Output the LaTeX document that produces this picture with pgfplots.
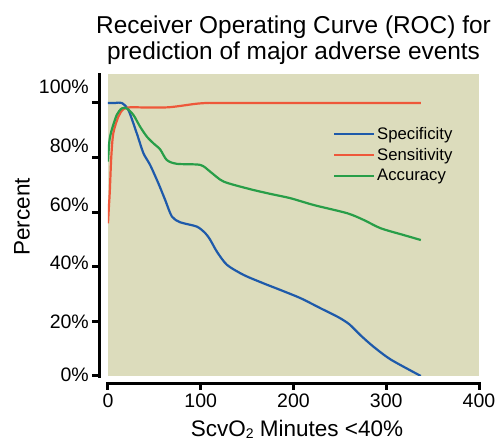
\documentclass[border=0pt]{standalone}
\usepackage{pgfplots}
\pgfplotsset{compat=1.18}
\usepackage{fontspec}
\setmainfont{Liberation Sans}
\definecolor{bg}{RGB}{220,220,188}
\definecolor{cblue}{RGB}{30,90,170}
\definecolor{cred}{RGB}{238,88,58}
\definecolor{cgreen}{RGB}{40,158,72}
\begin{document}
\begin{tikzpicture}[x=1pt,y=1pt]
\useasboundingbox (-108,-65) rectangle (388,376);
\begin{axis}[
  at={(0pt,0pt)}, anchor=south west,
  width=371pt, height=302pt, scale only axis,
  xmin=0, xmax=400, ymin=0, ymax=110.6,
  axis line style={draw=none},
  axis background/.style={fill=bg},
  xtick={0,100,200,300,400},
  ytick=\empty,
  major tick length=0pt,
  xticklabel style={font=\fontsize{19.5}{20}\selectfont, anchor=north, inner sep=0pt, yshift=-18pt},
  /pgf/number format/assume math mode=true,
  legend style={at={(0.606,0.832)}, anchor=north west, draw=none, fill=none,
    font=\fontsize{16.7}{17}\selectfont, inner sep=0pt, row sep=3.6pt,
    nodes={inner sep=2pt}},
  legend cell align=left,
  legend image code/.code={\draw[#1] (0pt,0pt) -- (40pt,0pt);},
  every axis plot/.append style={line width=2.2pt, smooth, tension=0.45},
]
\addplot[cblue] coordinates {(0,100) (8,100) (14.8,100) (22,97.4) (31,88.9) (38.2,81.6) (45.4,77.3) (54.4,70.5) (61.6,64.5) (68.9,58.4) (77.8,56.3) (95.9,54.7) (104.9,52.3) (110,50) (117.5,45.5) (128.3,40.7) (146.3,37.0) (167.9,33.9) (185.9,31.5) (207.6,28.5) (229.2,24.8) (248,21.6) (260,19.0) (272,15.0) (286,10.8) (305,6.0) (337.3,0)};
\addlegendentry{Specificity}
\addplot[cred] coordinates {(0,55.9) (1,62) (2,68) (3.5,80) (5.7,88.9) (11.2,95) (16.5,97.7) (23.8,98.4) (45,98.3) (65,98.4) (80,99) (95,99.7) (108,100) (130,100) (337.3,100)};
\addlegendentry{Sensitivity}
\addplot[cgreen] coordinates {(0,78.5) (1.5,86) (4,90.1) (9.4,95.6) (14.8,98.0) (20.2,98.0) (27.4,95.6) (34.6,91.3) (41.8,87.7) (49,85.2) (56.2,83.0) (63.4,79.1) (74.2,77.7) (99.5,77.3) (110.3,74.8) (124.7,71.2) (153.5,68.4) (175,66.7) (196.8,65.1) (222,62.6) (258,59.6) (276,57.1) (294,54.1) (319,51.6) (337.3,49.8)};
\addlegendentry{Accuracy}
\end{axis}
% offset axis lines and ticks
\draw[line width=3pt] (-8.5,-2) -- (-8.5,303);
\foreach \yy in {0,54.6,109.2,163.8,218.4,273}{\draw[line width=3pt] (-8.5,\yy) -- (-15.5,\yy);}
\draw[line width=3pt] (-1,-7.5) -- (372,-7.5);
\foreach \xx in {0,92.75,185.5,278.25,371}{\draw[line width=3pt] (\xx,-6) -- (\xx,-14.5);}
% y tick labels
\foreach \c/\t in {1/0,54.3/20,113/40,171/60,230/80,289.3/100}{
  \node[anchor=east, inner sep=0pt, font=\fontsize{19.5}{20}\selectfont] at (-19,\c) {\t\%};}
% titles and labels
\node[anchor=base, inner sep=0pt, font=\fontsize{24.4}{26}\selectfont] at (185.5,342) {Receiver Operating Curve (ROC) for};
\node[anchor=base, inner sep=0pt, font=\fontsize{24.4}{26}\selectfont] at (185.5,316) {prediction of major adverse events};
\node[anchor=base, inner sep=0pt, font=\fontsize{22.5}{24}\selectfont] at (189,-61) {ScvO{\fontsize{14}{14}\selectfont\raisebox{-2pt}{2}} Minutes <40\%};
\node[rotate=90, inner sep=0pt, font=\fontsize{22.5}{24}\selectfont] at (-86,159) {Percent};
\end{tikzpicture}
\end{document}
